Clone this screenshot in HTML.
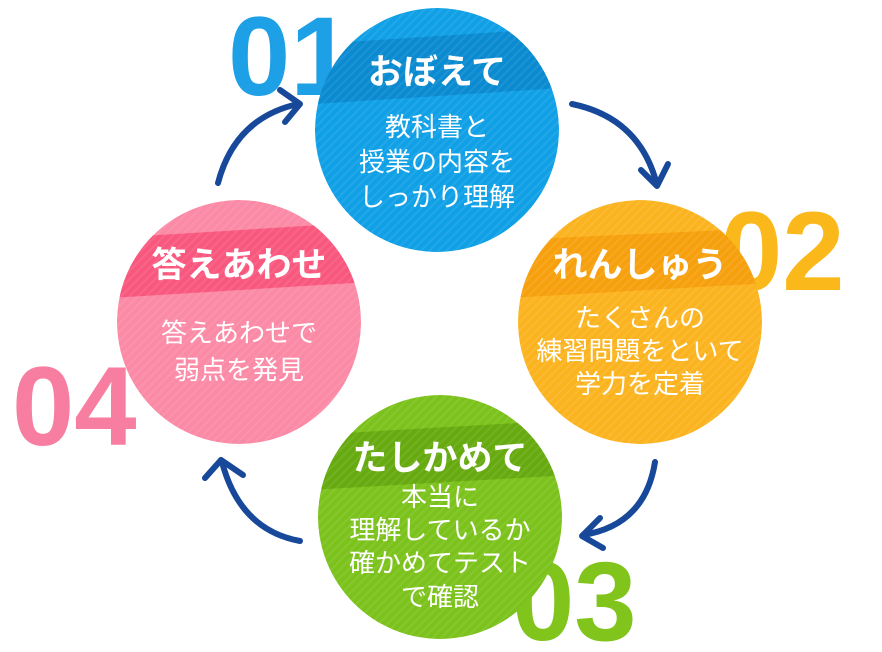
<!DOCTYPE html>
<html><head><meta charset="utf-8"><style>
body{margin:0;background:#fff;width:882px;height:647px;overflow:hidden}
svg text{font-family:"Liberation Sans","Noto Sans CJK JP",sans-serif}
</style></head><body>
<svg width="882" height="647" viewBox="0 0 882 647" xmlns="http://www.w3.org/2000/svg">
<defs>
<pattern id="st" width="6" height="6" patternUnits="userSpaceOnUse" patternTransform="rotate(45)"><rect width="2" height="6" fill="#fff" opacity="0.08"/></pattern>
<clipPath id="cb"><circle cx="437" cy="130" r="122"/></clipPath>
<clipPath id="co"><circle cx="640" cy="322" r="122"/></clipPath>
<clipPath id="cg"><circle cx="440" cy="517" r="122"/></clipPath>
<clipPath id="cp"><circle cx="239" cy="322" r="122"/></clipPath>
</defs>
<g font-weight="bold" font-size="112" font-family="Liberation Sans">
<text x="228" y="95" fill="#1ea0e6">01</text>
<text x="720" y="290" fill="#fbb81a">02</text>
<text x="512" y="640" fill="#80c41c">03</text>
<text x="12" y="445" fill="#f77ea0">04</text>
</g>
<g fill="none" stroke="#17489a" stroke-width="6" stroke-linecap="round" stroke-linejoin="round">
<path d="M218 183 Q235 118 298 104"/><path d="M280 90 L300 104 L285 122"/>
<path d="M572 104 Q640 118 657 185"/><path d="M641 170 L657 186 L668 164"/>
<path d="M655 462 Q645 525 583 535"/><path d="M600 518 L582 536 L603 548"/>
<path d="M300 541 Q240 530 222 462"/><path d="M205 478 L221 460 L243 475"/>
</g>
<g clip-path="url(#cb)"><circle cx="437" cy="130" r="122" fill="#10a0e6"/><polygon points="300,45 560,28 560,88 300,105" fill="#0a8ad0"/><rect x="300" y="0" width="270" height="260" fill="url(#st)"/></g>
<g clip-path="url(#co)"><circle cx="640" cy="322" r="122" fill="#fbb420"/><polygon points="510,240 770,228 770,283 510,298" fill="#f6a00e"/><rect x="510" y="195" width="270" height="260" fill="url(#st)"/></g>
<g clip-path="url(#cg)"><circle cx="440" cy="517" r="122" fill="#7cc21c"/><polygon points="310,435 570,420 570,475 310,490" fill="#66aa10"/><rect x="310" y="390" width="270" height="260" fill="url(#st)"/></g>
<g clip-path="url(#cp)"><circle cx="239" cy="322" r="122" fill="#fb8aa6"/><polygon points="110,238 370,222 370,282 110,298" fill="#f9587e"/><rect x="110" y="195" width="270" height="260" fill="url(#st)"/></g>
<g fill="#fff" text-anchor="middle" font-weight="bold" font-size="35">
<text x="437" y="84">おぼえて</text>
<text x="640" y="277">れんしゅう</text>
<text x="440" y="470">たしかめて</text>
<text x="239" y="277">答えあわせ</text>
</g>
<g fill="#fff" text-anchor="middle" font-size="26">
<text x="437" y="136">教科書と</text>
<text x="437" y="171">授業の内容を</text>
<text x="437" y="206">しっかり理解</text>
<text x="640" y="327">たくさんの</text>
<text x="640" y="360">練習問題をといて</text>
<text x="640" y="393">学力を定着</text>
<text x="440" y="506">本当に</text>
<text x="440" y="539">理解しているか</text>
<text x="440" y="572">確かめてテスト</text>
<text x="440" y="606">で確認</text>
<text x="239" y="342">答えあわせで</text>
<text x="239" y="379">弱点を発見</text>
</g>
</svg>
</body></html>
